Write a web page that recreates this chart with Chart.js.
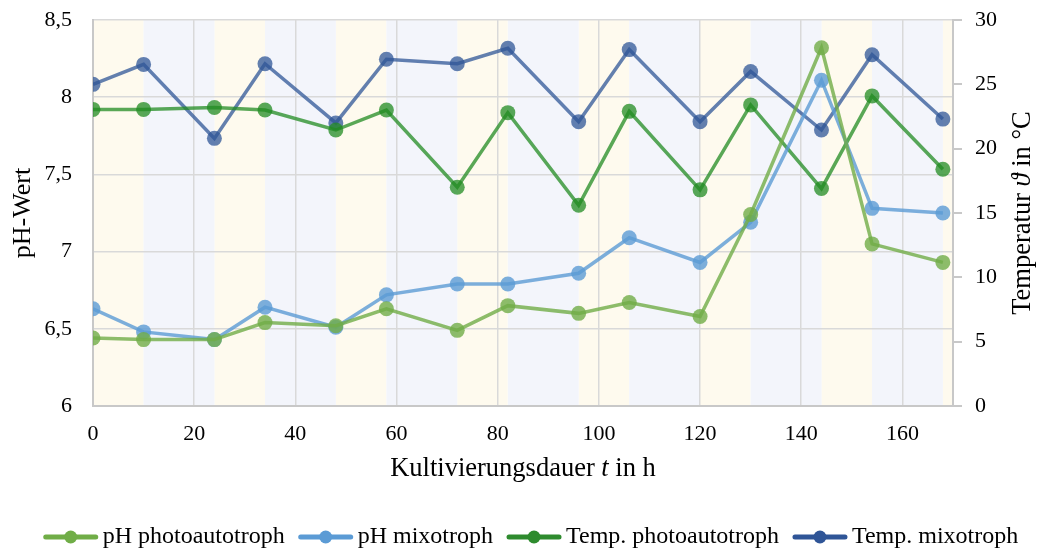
<!DOCTYPE html>
<html>
<head>
<meta charset="utf-8">
<script src="https://cdn.jsdelivr.net/npm/chart.js@4.4.1/dist/chart.umd.min.js"></script>
<style>
html,body{margin:0;padding:0;background:#fff;}
#wrap{width:1040px;height:552px;}
</style>
</head>
<body>
<div id="wrap"><canvas id="c" width="1040" height="552"></canvas></div>
<script>
const xHours = [0,10,24,34,48,58,72,82,96,106,120,130,144,154,168];
const phPhoto = [6.44,6.43,6.43,6.54,6.52,6.63,6.49,6.65,6.60,6.67,6.58,7.24,8.32,7.05,6.93];
const phMixo = [6.63,6.48,6.43,6.64,6.51,6.72,6.79,6.79,6.86,7.09,6.93,7.19,8.11,7.28,7.25];
const tempPhoto = [23.05,23.05,23.2,23.0,21.45,23.0,17.0,22.8,15.6,22.9,16.8,23.4,16.9,24.1,18.4];
const tempMixo = [25.0,26.55,20.8,26.6,22.0,26.95,26.6,27.8,22.1,27.7,22.1,26.0,21.45,27.3,22.3];
const lightPhases = [[0,10],[24,34],[48,58],[72,82],[96,106],[120,130],[144,154],[168,170]];
const darkPhases = [[10,24],[34,48],[58,72],[82,96],[106,120],[130,144],[154,168]];
const xTickValues = [0,20,40,60,80,100,120,140,160];
const seriesNames = ['pH photoautotroph','pH mixotroph','Temp. photoautotroph','Temp. mixotroph'];
const xTitle = ['Kultivierungsdauer ','t',' in h'];
const yTitle = 'pH-Wert';
const y1Title = ['Temperatur ','\u03D1',' in \u00B0C'];

const FONT = '"Liberation Serif","Times New Roman",serif';
const lineCols = ['rgba(112,173,71,0.8)','rgba(91,155,213,0.8)','rgba(34,139,34,0.75)','rgba(47,85,151,0.75)'];
const legendCols = ['#70ad47','#5b9bd5','#2e8b2e','#2f5597'];

function toPts(vals){ return xHours.map((x,i)=>({x:x,y:vals[i]})); }

const bandPlugin = {
  id:'bands',
  beforeDraw(chart){
    const {ctx, chartArea:a, scales:{x}} = chart;
    ctx.save();
    const fill = (arr,col)=>{
      ctx.fillStyle = col;
      arr.forEach(([s,e])=>{
        const px0 = x.getPixelForValue(s), px1 = x.getPixelForValue(e);
        ctx.fillRect(px0, a.top, px1-px0, a.bottom-a.top);
      });
    };
    fill(lightPhases,'rgb(254,250,238)');
    fill(darkPhases,'rgb(243,245,251)');
    ctx.restore();
  }
};

function drawMixed(ctx, parts, size){
  const fonts = parts.map((p,i)=> (i===1? 'italic ':'') + size + 'px ' + FONT);
  const widths = parts.map((p,i)=>{ctx.font = fonts[i]; return ctx.measureText(p).width;});
  const total = widths.reduce((a,b)=>a+b,0);
  let x = -total/2;
  parts.forEach((p,i)=>{ ctx.font = fonts[i]; ctx.fillText(p, x, 0); x += widths[i]; });
}

const titlePlugin = {
  id:'titles',
  afterDraw(chart){
    const {ctx, chartArea:a} = chart;
    ctx.save();
    ctx.fillStyle = '#000';
    ctx.textBaseline = 'middle';
    ctx.textAlign = 'left';
    // x title
    ctx.save();
    ctx.translate((a.left+a.right)/2, 469);
    drawMixed(ctx, xTitle, 26.5);
    ctx.restore();
    // left title
    ctx.save();
    ctx.translate(23, (a.top+a.bottom)/2);
    ctx.rotate(-Math.PI/2);
    ctx.font = '26px ' + FONT;
    ctx.textAlign = 'center';
    ctx.fillText(yTitle, 0, 0);
    ctx.restore();
    // right title
    ctx.save();
    ctx.translate(1023, (a.top+a.bottom)/2);
    ctx.rotate(-Math.PI/2);
    drawMixed(ctx, y1Title, 26.5);
    ctx.restore();
    // legend
    const fs = 24, iconW = 54, gapIcon = 5, gapItem = 14, cy = 537;
    ctx.font = fs + 'px ' + FONT;
    const tw = seriesNames.map(n=>ctx.measureText(n).width);
    const total = tw.reduce((s,w)=>s+iconW+gapIcon+w,0) + gapItem*(seriesNames.length-1);
    let x = 531 - total/2;
    seriesNames.forEach((n,i)=>{
      const col = legendCols[i];
      ctx.strokeStyle = col; ctx.lineWidth = 5; ctx.lineCap = 'round';
      ctx.beginPath(); ctx.moveTo(x+2, cy); ctx.lineTo(x+iconW-2, cy); ctx.stroke();
      ctx.fillStyle = col; ctx.beginPath(); ctx.arc(x+iconW/2, cy, 6.5, 0, Math.PI*2); ctx.fill();
      x += iconW + gapIcon;
      ctx.fillStyle = '#000'; ctx.textAlign = 'left'; ctx.textBaseline = 'middle';
      ctx.fillText(n, x, cy);
      x += tw[i] + gapItem;
    });
    ctx.restore();
  }
};

const gridCol = '#d9d9d9';
const borderCol = '#c8c8c8';

new Chart(document.getElementById('c'), {
  type:'line',
  data:{
    datasets:[phPhoto,phMixo,tempPhoto,tempMixo].map((v,i)=>({
      label: seriesNames[i],
      data: toPts(v),
      yAxisID: i<2 ? 'y' : 'y1',
      borderColor: lineCols[i],
      backgroundColor: lineCols[i],
      borderWidth: 3.5,
      pointRadius: 7.5,
      pointHoverRadius: 7.5,
      pointBorderWidth: 0,
      tension: 0,
      fill: false
    }))
  },
  options:{
    responsive:false,
    animation:false,
    events:[],
    layout:{padding:{top:20,left:0,right:0,bottom:66}},
    plugins:{
      tooltip:{enabled:false},
      legend:{display:false}
    },
    scales:{
      x:{
        type:'linear', min:0, max:170,
        afterBuildTicks(s){ s.ticks = xTickValues.map(v=>({value:v})); },
        afterFit(s){ s.height = 80; s.paddingLeft = 0; s.paddingRight = 0; },
        ticks:{stepSize:20, autoSkip:false, color:'#000', font:{family:FONT,size:22}, padding:15, maxRotation:0},
        grid:{color:gridCol, lineWidth:1.5, drawTicks:false},
        border:{color:borderCol, width:2}
      },
      y:{
        position:'left', min:6, max:8.5,
        afterFit(s){ s.width = 93; s.paddingTop = 0; s.paddingBottom = 0; },
        ticks:{stepSize:0.5, color:'#000', font:{family:FONT,size:22}, padding:21,
          callback:(v)=>String(v).replace('.',',')},
        grid:{color:gridCol, lineWidth:1.5, drawTicks:false},
        border:{color:borderCol, width:2}
      },
      y1:{
        position:'right', min:0, max:30,
        afterFit(s){ s.width = 87; s.paddingTop = 0; s.paddingBottom = 0; },
        ticks:{stepSize:5, color:'#000', font:{family:FONT,size:22}, padding:13},
        grid:{drawOnChartArea:false, color:borderCol, lineWidth:2, tickLength:9},
        border:{color:borderCol, width:2}
      }
    }
  },
  plugins:[bandPlugin,titlePlugin]
});
</script>
</body>
</html>
